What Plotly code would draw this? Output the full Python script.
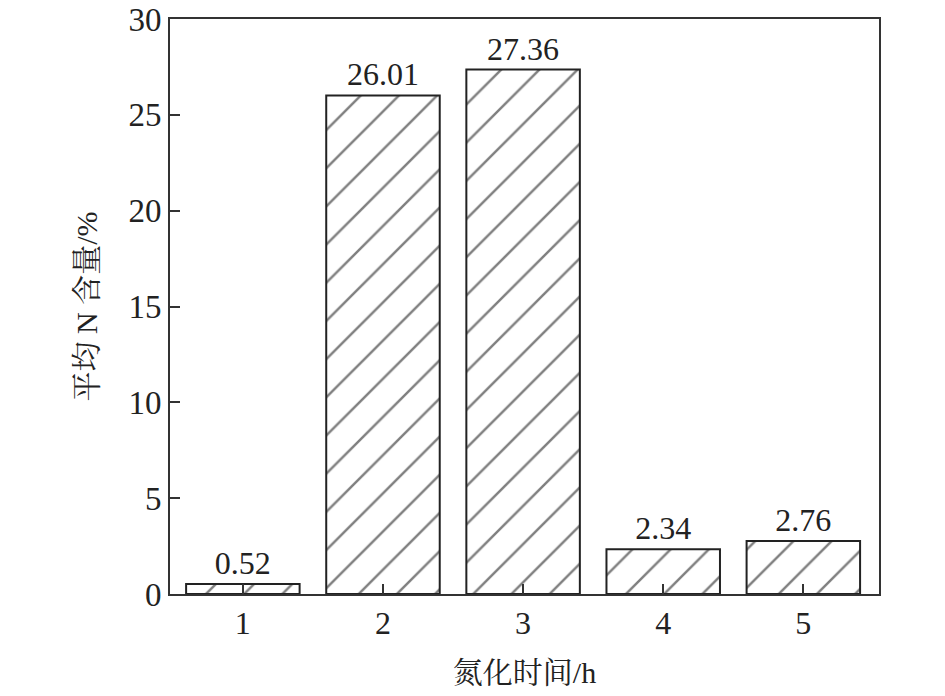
import plotly.graph_objects as go

categories = [1, 2, 3, 4, 5]
values = [0.52, 26.01, 27.36, 2.34, 2.76]
y_ticks = [0, 5, 10, 15, 20, 25, 30]

FONT = "Liberation Serif, Times New Roman, Noto Serif CJK SC, Noto Sans CJK SC, serif"

fig = go.Figure()
fig.add_trace(go.Bar(
    x=categories, y=values, width=0.81,
    marker=dict(color="white", line=dict(color="#222", width=2),
                pattern=dict(shape="/", fgcolor="#000", bgcolor="white", size=27, solidity=0.09)),
    text=[f"{v:.2f}" for v in values], textposition="outside",
    textfont=dict(family=FONT, size=32, color="#222"),
    outsidetextfont=dict(family=FONT, size=32, color="#222"),
    cliponaxis=False, hoverinfo="skip",
))

fig.update_layout(
    width=945, height=696,
    margin=dict(l=170, r=66, t=19, b=102),
    paper_bgcolor="white", plot_bgcolor="white",
    showlegend=False,
    font=dict(family=FONT, size=30, color="#222"),
    xaxis=dict(range=[0.48, 5.54], tickvals=categories, ticktext=[str(c) for c in categories],
               ticks="inside", ticklen=10, tickwidth=1.5, tickcolor="#333",
               showline=True, linecolor="#333", linewidth=2, mirror=True, showgrid=False,
               zeroline=False, automargin=False,
               title=dict(text="氮化时间/h", font=dict(family=FONT, size=30), standoff=22),
               tickfont=dict(family=FONT, size=32)),
    yaxis=dict(range=[0, 30], tickvals=y_ticks,
               ticks="inside", ticklen=10, tickwidth=1.5, tickcolor="#333",
               showline=True, linecolor="#333", linewidth=2, mirror=True, showgrid=False,
               zeroline=False, automargin=False,
               title=dict(text="平均 N 含量/%", font=dict(family=FONT, size=30), standoff=22),
               tickfont=dict(family=FONT, size=33)),
)

fig.write_html("out.html", config={"displayModeBar": False},
               post_script="document.body.style.margin='0';document.body.style.overflow='hidden';")
